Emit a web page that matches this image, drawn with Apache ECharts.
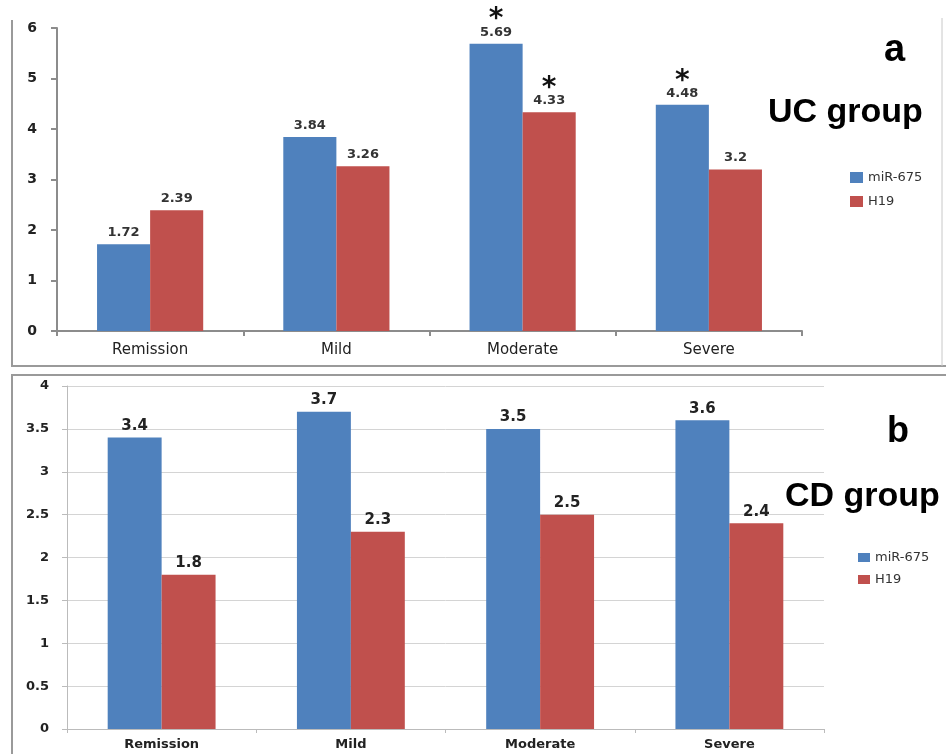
<!DOCTYPE html>
<html>
<head>
<meta charset="utf-8">
<script src="https://cdn.jsdelivr.net/npm/echarts@6/dist/echarts.min.js"></script>
<style>
html, body { margin: 0; padding: 0; background: #fff; }
#chart { width: 946px; height: 754px; }
</style>
</head>
<body>
<div id="chart"></div>
<script>
var categories = ['Remission', 'Mild', 'Moderate', 'Severe'];
var seriesNames = ['miR-675', 'H19'];

// panel a - UC group
var ucMir = [1.72, 3.84, 5.69, 4.48];
var ucH19 = [2.39, 3.26, 4.33, 3.2];
var ucMirStar = [false, false, true, true];
var ucH19Star = [false, false, true, false];
var ucAxis = [0, 6, 1];   // min, max, interval

// panel b - CD group
var cdMir = [3.4, 3.7, 3.5, 3.6];
var cdH19 = [1.8, 2.3, 2.5, 2.4];
var cdAxis = [0, 4, 0.5];

var blue = '#4f81bd';
var red = '#c0504d';
var axisGray = '#8c8c8c';
var font = 'DejaVu Sans';

var dom = document.getElementById('chart');
var myChart = echarts.init(dom);

function withStars(values, stars) {
    return values.map(function (v, i) {
        if (!stars[i]) return v;
        return {
            value: v,
            label: {
                formatter: '{s|*}\n{v|' + v + '}'
            }
        };
    });
}

var ucLabel = {
    show: true,
    position: 'top',
    distance: 5,
    fontFamily: font,
    fontSize: 13,
    fontWeight: 'bold',
    color: '#333',
    rich: {
        s: { fontFamily: font, fontSize: 28, fontWeight: 'bold', color: '#111', lineHeight: 11 },
        v: { fontFamily: font, fontSize: 13, fontWeight: 'bold', color: '#333' }
    }
};
var cdLabel = {
    show: true,
    position: 'top',
    distance: 4,
    fontFamily: font,
    fontSize: 15,
    fontWeight: 'bold',
    color: '#222'
};

var option = {
    animation: false,
    backgroundColor: '#fff',
    grid: [
        { left: 57, top: 28, width: 745, height: 303 },
        { left: 67, top: 386, width: 757, height: 343 }
    ],
    legend: [{
        data: seriesNames,
        orient: 'vertical',
        left: 845,
        top: 166,
        icon: 'rect',
        itemWidth: 13,
        itemHeight: 11,
        itemGap: 11,
        selectedMode: false,
        textStyle: { fontFamily: font, fontSize: 13, color: '#333' }
    }, {
        data: seriesNames,
        orient: 'vertical',
        left: 853,
        top: 546,
        icon: 'rect',
        itemWidth: 12,
        itemHeight: 9,
        itemGap: 9,
        selectedMode: false,
        textStyle: { fontFamily: font, fontSize: 13, color: '#333' }
    }],
    xAxis: [{
        type: 'category',
        gridIndex: 0,
        data: categories,
        axisLine: { lineStyle: { color: axisGray, width: 2 } },
        axisTick: { show: true, length: 5, lineStyle: { color: axisGray, width: 2 } },
        axisLabel: { fontFamily: font, fontSize: 15, color: '#222', margin: 12 }
    }, {
        type: 'category',
        gridIndex: 1,
        data: categories,
        axisLine: { lineStyle: { color: '#bbb', width: 1 } },
        axisTick: { show: true, length: 4, lineStyle: { color: '#bbb' } },
        axisLabel: { fontFamily: font, fontSize: 13, fontWeight: 'bold', color: '#222', margin: 9 }
    }],
    yAxis: [{
        type: 'value',
        gridIndex: 0,
        min: ucAxis[0],
        max: ucAxis[1],
        interval: ucAxis[2],
        axisLine: { show: true, lineStyle: { color: axisGray, width: 2 } },
        axisTick: { show: true, length: 6, lineStyle: { color: axisGray, width: 2 } },
        splitLine: { show: false },
        axisLabel: { fontFamily: font, fontSize: 14, fontWeight: 'bold', color: '#222', margin: 20 }
    }, {
        type: 'value',
        gridIndex: 1,
        min: cdAxis[0],
        max: cdAxis[1],
        interval: cdAxis[2],
        axisLine: { show: true, lineStyle: { color: '#bbb', width: 1 } },
        axisTick: { show: true, length: 5, lineStyle: { color: '#bbb' } },
        splitLine: { show: true, lineStyle: { color: '#d4d4d4', width: 1 } },
        axisLabel: { fontFamily: font, fontSize: 13, fontWeight: 'bold', color: '#222', margin: 18 }
    }],
    series: [{
        name: seriesNames[0],
        type: 'bar',
        xAxisIndex: 0,
        yAxisIndex: 0,
        barGap: 0,
        barCategoryGap: '43%',
        itemStyle: { color: blue },
        label: ucLabel,
        data: withStars(ucMir, ucMirStar)
    }, {
        name: seriesNames[1],
        type: 'bar',
        xAxisIndex: 0,
        yAxisIndex: 0,
        barGap: 0,
        barCategoryGap: '43%',
        itemStyle: { color: red },
        label: ucLabel,
        data: withStars(ucH19, ucH19Star)
    }, {
        name: seriesNames[0],
        type: 'bar',
        xAxisIndex: 1,
        yAxisIndex: 1,
        barGap: 0,
        barCategoryGap: '43%',
        itemStyle: { color: blue },
        label: cdLabel,
        data: cdMir
    }, {
        name: seriesNames[1],
        type: 'bar',
        xAxisIndex: 1,
        yAxisIndex: 1,
        barGap: 0,
        barCategoryGap: '43%',
        itemStyle: { color: red },
        label: cdLabel,
        data: cdH19
    }],
    graphic: [
        // panel frames
        { type: 'polyline', shape: { points: [[12, 20], [12, 366], [946, 366]] }, style: { stroke: '#9a9a9a', lineWidth: 2, fill: null } },
        { type: 'line', shape: { x1: 942, y1: 18, x2: 942, y2: 366 }, style: { stroke: '#c8c8c8', lineWidth: 1 } },
        { type: 'polyline', shape: { points: [[12, 754], [12, 375], [946, 375]] }, style: { stroke: '#9a9a9a', lineWidth: 2, fill: null } },
        // panel titles
        { type: 'text', left: 884, top: 32, style: { text: 'a', font: 'bold 38px "Liberation Sans"', fill: '#000' } },
        { type: 'text', left: 768, top: 96, style: { text: 'UC group', font: 'bold 34px "Liberation Sans"', fill: '#000' } },
        { type: 'text', left: 887, top: 414, style: { text: 'b', font: 'bold 36px "Liberation Sans"', fill: '#000' } },
        { type: 'text', left: 785, top: 480, style: { text: 'CD group', font: 'bold 34px "Liberation Sans"', fill: '#000' } }
    ]
};

if (option && typeof option === 'object') {
    myChart.setOption(option, true);
}
</script>
</body>
</html>
